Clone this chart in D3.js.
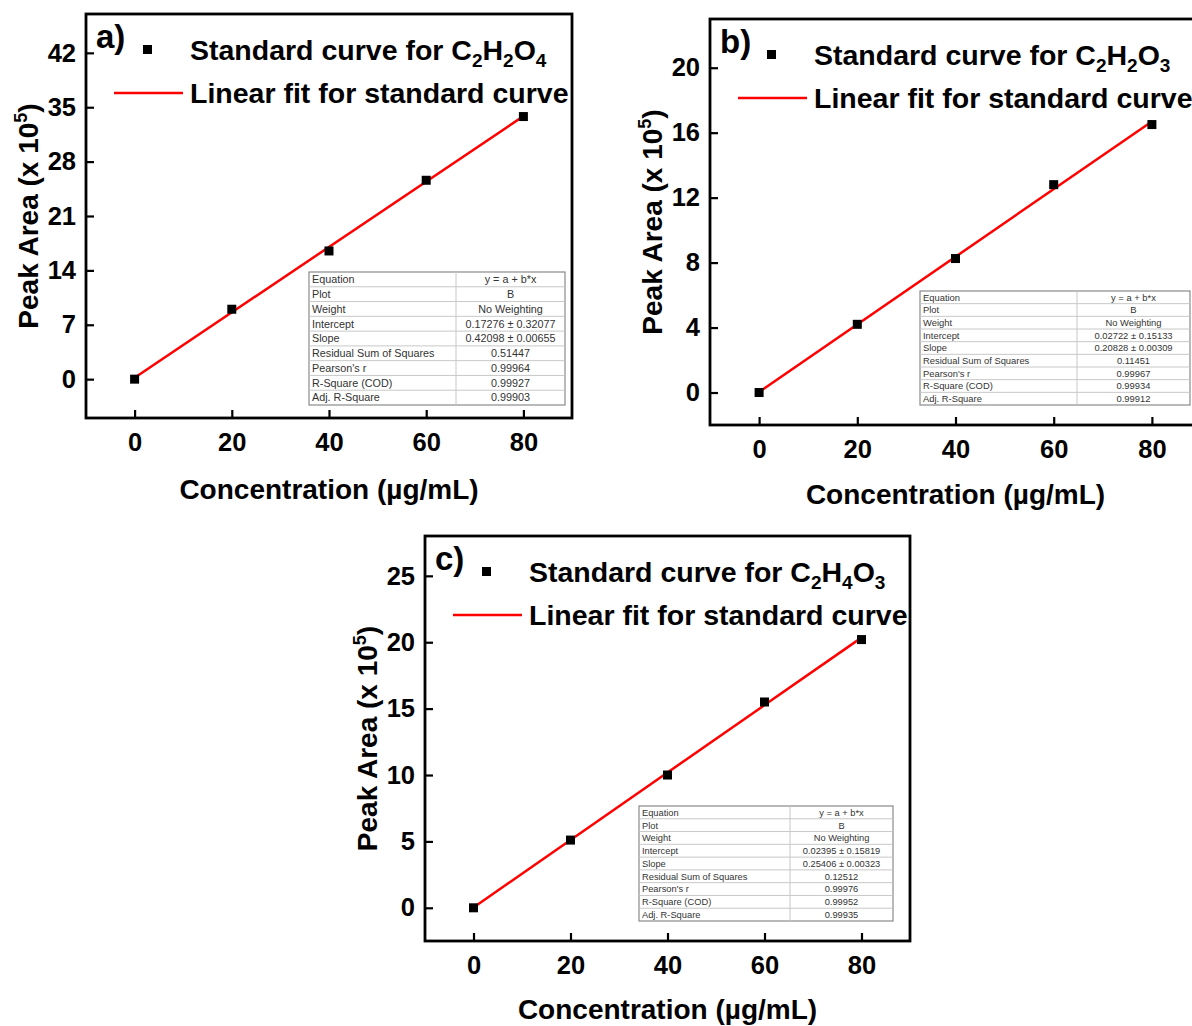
<!DOCTYPE html>
<html>
<head>
<meta charset="utf-8">
<script src="https://cdn.jsdelivr.net/npm/d3@7"></script>
<style>
  body { margin: 0; background: #fff; }
  svg { display: block; font-family: "Liberation Sans", Arial, sans-serif; }
</style>
</head>
<body>
<div id="chart"></div>
<script>
// concentrations (µg/mL) shared by all three curves
const concentrations = [0, 20, 40, 60, 80];

// peak area (x 10^5)
const peakOxalic = [0, 9.0, 16.5, 25.6, 33.8];    // C2H2O4
const peakGlyoxylic = [0, 4.2, 8.25, 12.8, 16.5]; // C2H2O3
const peakGlycolic = [0, 5.1, 10.0, 15.5, 20.2];  // C2H4O3

// fit parameters [intercept, slope]
const fitOxalic = [0.17276, 0.42098];
const fitGlyoxylic = [0.02722, 0.20828];
const fitGlycolic = [0.02395, 0.25406];

// tick values for each y axis
const yTicksA = [0, 7, 14, 21, 28, 35, 42];
const yTicksB = [0, 4, 8, 12, 16, 20];
const yTicksC = [0, 5, 10, 15, 20, 25];
const xTicks = [0, 20, 40, 60, 80];

// table rows
const tableLabels = ["Equation", "Plot", "Weight", "Intercept", "Slope",
  "Residual Sum of Squares", "Pearson's r", "R-Square (COD)", "Adj. R-Square"];
const tableA = ["y = a + b*x", "B", "No Weighting", "0.17276 \u00b1 0.32077", "0.42098 \u00b1 0.00655",
  "0.51447", "0.99964", "0.99927", "0.99903"];
const tableB = ["y = a + b*x", "B", "No Weighting", "0.02722 \u00b1 0.15133", "0.20828 \u00b1 0.00309",
  "0.11451", "0.99967", "0.99934", "0.99912"];
const tableC = ["y = a + b*x", "B", "No Weighting", "0.02395 \u00b1 0.15819", "0.25406 \u00b1 0.00323",
  "0.12512", "0.99976", "0.99952", "0.99935"];

const svg = d3.select("#chart").append("svg")
  .attr("width", 1192)
  .attr("height", 1026);

function drawPanel(p) {
  const g = svg.append("g").attr("transform", `translate(${p.left},${p.top})`);

  const x = d3.scaleLinear().domain([-10, 90]).range([0, p.w]);
  const y = d3.scaleLinear().domain(p.yDomain).range([p.h, 0]);

  // axes (ticks pointing inward)
  const xAxis = g.append("g")
    .attr("transform", `translate(0,${p.h})`)
    .call(d3.axisBottom(x).tickValues(xTicks).tickSize(-8).tickPadding(15));
  const yAxis = g.append("g")
    .call(d3.axisLeft(y).tickValues(p.yTicks).tickSize(-8).tickPadding(10));

  [xAxis, yAxis].forEach(a => {
    a.select(".domain").remove();
    a.selectAll(".tick line").attr("stroke", "#000").attr("stroke-width", 2.2);
    a.selectAll(".tick text")
      .attr("fill", "#000")
      .style("font-size", "25.5px")
      .style("font-weight", "bold");
  });

  // fit line
  const line = d3.line().x(d => x(d)).y(d => y(p.fit[0] + p.fit[1] * d));
  g.append("path")
    .datum([concentrations[0], concentrations[concentrations.length - 1]])
    .attr("d", line)
    .attr("fill", "none")
    .attr("stroke", "#ff0000")
    .attr("stroke-width", 2.5);

  // points
  g.selectAll(".pt")
    .data(concentrations.map((c, i) => [c, p.values[i]]))
    .enter()
    .append("rect")
    .attr("x", d => x(d[0]) - 4.5)
    .attr("y", d => y(d[1]) - 4.5)
    .attr("width", 9)
    .attr("height", 9)
    .attr("fill", "#000");

  // frame
  g.append("rect")
    .attr("width", p.w)
    .attr("height", p.h)
    .attr("fill", "none")
    .attr("stroke", "#000")
    .attr("stroke-width", 2.8);

  // panel letter
  g.append("text")
    .attr("x", 10)
    .attr("y", 34)
    .style("font-size", "33px")
    .style("font-weight", "bold")
    .text(p.letter);

  // legend
  g.append("rect")
    .attr("x", 57).attr("y", 31)
    .attr("width", 9).attr("height", 9)
    .attr("fill", "#000");
  const t1 = g.append("text")
    .attr("x", 104).attr("y", 46)
    .style("font-size", "28.5px")
    .style("font-weight", "bold");
  t1.append("tspan").text("Standard curve for C");
  p.formula.forEach(part => {
    t1.append("tspan").attr("dy", 7).style("font-size", "19px").text(part[0]);
    if (part[1]) t1.append("tspan").attr("dy", -7).text(part[1]);
  });

  g.append("line")
    .attr("x1", 28).attr("x2", 97)
    .attr("y1", 79).attr("y2", 79)
    .attr("stroke", "#ff0000")
    .attr("stroke-width", 2.5);
  g.append("text")
    .attr("x", 104).attr("y", 89)
    .style("font-size", "28.5px")
    .style("font-weight", "bold")
    .text("Linear fit for standard curve");

  // axis titles
  const yt = g.append("text")
    .attr("transform", `translate(-48,${p.h / 2}) rotate(-90)`)
    .attr("text-anchor", "middle")
    .style("font-size", "28px")
    .style("font-weight", "bold");
  yt.append("tspan").text("Peak Area (x 10");
  yt.append("tspan").attr("dy", -11).style("font-size", "18px").text("5");
  yt.append("tspan").attr("dy", 11).text(")");

  g.append("text")
    .attr("x", p.w / 2)
    .attr("y", p.h + p.xtY)
    .attr("text-anchor", "middle")
    .style("font-size", "28px")
    .style("font-weight", "bold")
    .text("Concentration (\u00b5g/mL)");

  // fit results table
  const tb = g.append("g").attr("transform", `translate(${p.tx},${p.ty})`);
  const rowH = p.th / tableLabels.length;
  tb.append("rect")
    .attr("width", p.tw).attr("height", p.th)
    .attr("fill", "#fff")
    .attr("stroke", "#8a8a8a")
    .attr("stroke-width", 1.2);
  tb.selectAll(".row")
    .data(tableLabels.slice(1))
    .enter()
    .append("line")
    .attr("x1", 0).attr("x2", p.tw)
    .attr("y1", (d, i) => (i + 1) * rowH)
    .attr("y2", (d, i) => (i + 1) * rowH)
    .attr("stroke", "#c8c8c8")
    .attr("stroke-width", 1);
  tb.append("line")
    .attr("x1", p.tc).attr("x2", p.tc)
    .attr("y1", 0).attr("y2", p.th)
    .attr("stroke", "#c8c8c8")
    .attr("stroke-width", 1);
  tb.selectAll(".lab")
    .data(tableLabels)
    .enter()
    .append("text")
    .attr("x", 3)
    .attr("y", (d, i) => (i + 0.5) * rowH)
    .attr("dy", "0.36em")
    .attr("fill", "#333")
    .style("font-size", p.tf + "px")
    .text(d => d);
  tb.selectAll(".val")
    .data(p.table)
    .enter()
    .append("text")
    .attr("x", (p.tc + p.tw) / 2)
    .attr("y", (d, i) => (i + 0.5) * rowH)
    .attr("dy", "0.36em")
    .attr("text-anchor", "middle")
    .attr("fill", "#333")
    .style("font-size", p.tf + "px")
    .text(d => d);
}

drawPanel({
  letter: "a)", left: 86, top: 14, w: 486, h: 404, xtY: 81,
  yDomain: [-5, 47], yTicks: yTicksA, values: peakOxalic, fit: fitOxalic,
  formula: [["2", "H"], ["2", "O"], ["4", ""]],
  table: tableA, tx: 223, ty: 258, tw: 256, th: 133, tc: 147, tf: 10.8
});
drawPanel({
  letter: "b)", left: 710, top: 19, w: 491, h: 406, xtY: 79,
  yDomain: [-2, 23], yTicks: yTicksB, values: peakGlyoxylic, fit: fitGlyoxylic,
  formula: [["2", "H"], ["2", "O"], ["3", ""]],
  table: tableB, tx: 210, ty: 272, tw: 270, th: 114, tc: 157, tf: 9.4
});
drawPanel({
  letter: "c)", left: 425, top: 536, w: 485, h: 405, xtY: 78,
  yDomain: [-2.5, 28], yTicks: yTicksC, values: peakGlycolic, fit: fitGlycolic,
  formula: [["2", "H"], ["4", "O"], ["3", ""]],
  table: tableC, tx: 214, ty: 270, tw: 254, th: 115, tc: 151, tf: 9.3
});
</script>
</body>
</html>
